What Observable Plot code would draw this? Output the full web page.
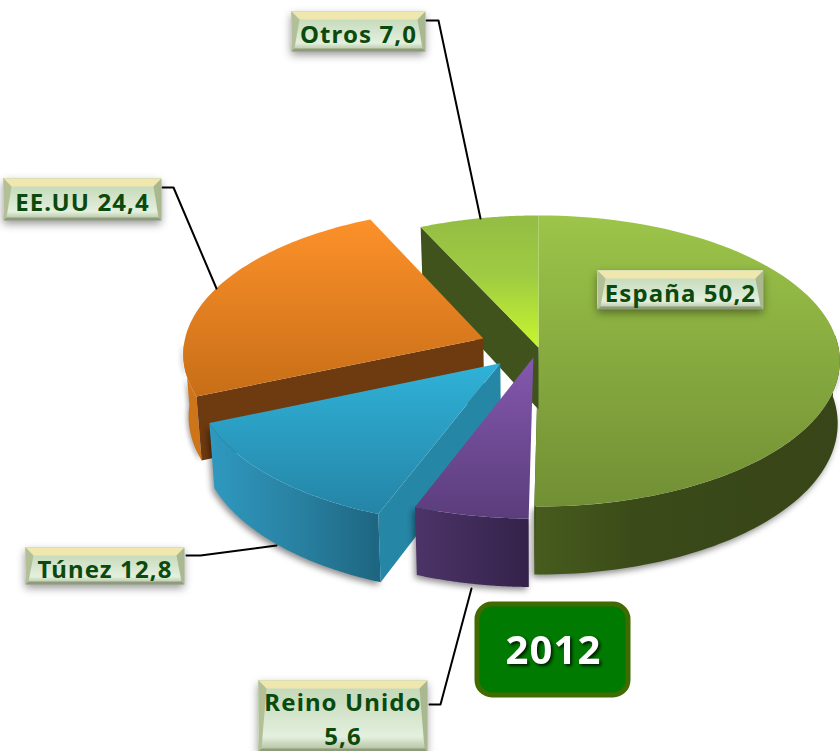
<!DOCTYPE html>
<html><head><meta charset="utf-8">
<script src="https://cdn.jsdelivr.net/npm/d3@7"></script>
<script src="https://cdn.jsdelivr.net/npm/@observablehq/plot@0.6"></script>
<style>
html,body{margin:0;padding:0;background:#fff;overflow:hidden}
svg{display:block}
svg text{letter-spacing:1.1px}
</style></head><body>
<script>
// Data
const categories = ["España", "Reino Unido", "Túnez", "EE.UU", "Otros"];
const values = [50.2, 5.6, 12.8, 24.4, 7.0];
const year = "2012";

// Layout (ground-plane geometry of the tilted pie, and label boxes)
const W = 840, H = 751;
const cx = 538, cy = 347, RX = 300, RY = 144.3, K = 0.0928;
const shiftU = [0, -0.017, -0.126, -0.185, 0];
const shiftV = [0, 0.068, 0.108, -0.0625, 0];
const boxX1 = [597, 258, 25, 3, 291];
const boxX2 = [763, 427, 184, 161, 425];
const boxY1 = [270, 680, 547, 178, 11];
const boxY2 = [309, 751, 584, 220, 51];
const leaderX = [null, [429, 440, 471], [186, 200, 276], [162, 173, 216], [426, 438, 480]];
const leaderY = [null, [704, 704, 588], [555, 555, 545], [187, 187, 288], [20, 20, 218]];

const proj = (u, v) => {
  const d = 1 - K * v;
  return {x: cx + RX * u / d, y: cy + RY * v / d};
};
const depth = v => 62 + 6 * v;
const low = (u, v) => {
  const p = proj(u, v);
  const s = p.x > cx ? 0.993 : 0.985;
  return {x: cx + (p.x - cx) * s, y: p.y + depth(v)};
};
const total = d3.sum(values);
const cum = [0, ...d3.cumsum(values)];
const ang = i => cum[i] / total * 2 * Math.PI;
const rimUV = (i, t) => ({u: shiftU[i] + Math.sin(t), v: shiftV[i] - Math.cos(t)});

function arcTs(a0, a1) { return d3.range(0, 81).map(k => a0 + (a1 - a0) * k / 80); }
function topPoly(i) {
  const pts = arcTs(ang(i), ang(i + 1)).map(t => { const q = rimUV(i, t); return proj(q.u, q.v); });
  pts.push(proj(shiftU[i], shiftV[i]));
  return pts;
}
function wallPoly(i, a0, a1) {
  const ts = arcTs(a0, a1);
  const up = ts.map(t => { const q = rimUV(i, t); return proj(q.u, q.v); });
  const dn = ts.map(t => { const q = rimUV(i, t); return low(q.u, q.v); }).reverse();
  return [...up, ...dn];
}
function cutPoly(i, t) {
  const q = rimUV(i, t), a = {u: shiftU[i], v: shiftV[i]};
  return [proj(q.u, q.v), proj(a.u, a.v), low(a.u, a.v), low(q.u, q.v)];
}
const poly = (pts, fill, extra = {}) => Plot.line(pts, {x: "x", y: "y", fill, stroke: "none", ...extra});
const deg = d => d * Math.PI / 180;

const gradients = [
  ["gEs", 0, 1, [[0, "#9cc549"], [0.75, "#7c9c3a"], [1, "#718f34"]]],
  ["gOt", 0, 1, [[0, "#93bd44"], [0.45, "#9ecb42"], [1, "#c8f62e"]]],
  ["gOr", 0, 1, [[0, "#fd912a"], [1, "#c76e17"]]],
  ["gBl", 0, 1, [[0, "#30b2d8"], [1, "#2484a6"]]],
  ["gPu", 0, 1, [[0, "#8458ae"], [1, "#5b3d7c"]]],
  ["gEsW", 1, 0, [[0, "#475c1e"], [0.35, "#3a4a18"], [1, "#384518"]]],
  ["gBlW", 1, 0, [[0, "#2f99c0"], [0.55, "#287f9f"], [1, "#1d6580"]]],
  ["gPuW", 1, 0, [[0, "#4c3468"], [1, "#34224a"]]],
  ["gBox", 0, 1, [[0, "#c4d9b8"], [0.25, "#c8dcbe"], [0.8, "#e4f0de"], [1, "#aebd9c"]]]
];
const defsMark = () => {
  const svg = d3.create("svg:defs");
  for (const [id, h, , stops] of gradients) {
    const g = svg.append("linearGradient").attr("id", id)
      .attr("x1", 0).attr("y1", 0).attr("x2", h ? 1 : 0).attr("y2", h ? 0 : 1);
    for (const [o, c] of stops) g.append("stop").attr("offset", o).attr("stop-color", c);
  }
  return svg.node();
};

const shadow = "drop-shadow(-2px 3px 3px rgba(0,0,0,0.45))";
const softShadow = "drop-shadow(-2px 1px 2px rgba(0,0,0,0.3))";
const B = 8;
const labels = categories.map((c, i) => {
  const v = values[i].toFixed(1).replace(".", ",");
  return {
    text: c === "Reino Unido" ? `${c}\n${v}` : `${c} ${v}`,
    x: (boxX1[i] + boxX2[i]) / 2, y: (boxY1[i] + boxY2[i]) / 2 + 1,
    x1: boxX1[i], x2: boxX2[i], y1: boxY1[i], y2: boxY2[i]
  };
});
const boxMarks = labels.flatMap(b => [
  Plot.rect([b], {x1: "x1", x2: "x2", y1: "y1", y2: "y2", fill: "url(#gBox)",
    imageFilter: "drop-shadow(0px 4px 4px rgba(0,0,0,0.4))"}),
  poly([{x: b.x1, y: b.y1}, {x: b.x2, y: b.y1}, {x: b.x2 - B, y: b.y1 + B}, {x: b.x1 + B, y: b.y1 + B}], "#efe7ad"),
  poly([{x: b.x1, y: b.y1}, {x: b.x1 + B, y: b.y1 + B}, {x: b.x1 + 3, y: b.y2 - 3}, {x: b.x1, y: b.y2}], "#b3bf97"),
  poly([{x: b.x2, y: b.y1}, {x: b.x2 - B, y: b.y1 + B}, {x: b.x2 - 3, y: b.y2 - 3}, {x: b.x2, y: b.y2}], "#aab88f"),
  poly([{x: b.x1, y: b.y2}, {x: b.x1 + 3, y: b.y2 - 3}, {x: b.x2 - 3, y: b.y2 - 3}, {x: b.x2, y: b.y2}], "#8f9c7c")
]);

const chart = Plot.plot({
  width: W, height: H, margin: 0,
  x: {domain: [0, W], range: [0, W], axis: null},
  y: {domain: [0, H], range: [0, H], axis: null},
  style: {background: "#fff"},
  marks: [
    defsMark,
    // España
    poly(wallPoly(0, deg(85), ang(1)), "url(#gEsW)", {imageFilter: shadow}),
    poly(cutPoly(0, ang(1)), "#3e4f1a"),
    poly(topPoly(0), "url(#gEs)"),
    // Otros
    poly(cutPoly(4, ang(4)), "#41531c"),
    poly(topPoly(4), "url(#gOt)"),
    // EE.UU
    poly(wallPoly(3, ang(3), deg(268)), "#cf7519", {imageFilter: softShadow}),
    poly(cutPoly(3, ang(3)), "#6e3a10"),
    poly(topPoly(3), "url(#gOr)"),
    // Túnez
    poly(wallPoly(2, ang(2), ang(3)), "url(#gBlW)", {imageFilter: shadow}),
    poly(cutPoly(2, ang(2)), "#2586a6"),
    poly(topPoly(2), "url(#gBl)"),
    // Reino Unido
    poly(wallPoly(1, ang(1), ang(2)), "url(#gPuW)", {imageFilter: shadow}),
    poly(topPoly(1), "url(#gPu)"),
    // Leader lines
    ...categories.flatMap((c, i) => leaderX[i] ? [Plot.line(leaderX[i].map((x, k) => ({x, y: leaderY[i][k]})),
      {x: "x", y: "y", stroke: "#000", strokeWidth: 2})] : []),
    // Labels
    ...boxMarks,
    Plot.text(labels, {x: "x", y: "y", text: "text", fill: "#0b4a0d", fontSize: 24, fontWeight: 700,
      fontFamily: "Noto Sans", lineHeight: 1.42, textAnchor: "middle"}),
    // Year badge
    Plot.rect([{x1: 477, x2: 628, y1: 604, y2: 695}], {x1: "x1", x2: "x2", y1: "y1", y2: "y2",
      fill: "#007a00", stroke: "#3f6b00", strokeWidth: 5, rx: 15}),
    Plot.text([year], {x: () => 553, y: () => 651, text: d => d, fill: "#fff", fontSize: 40, fontWeight: 700,
      fontFamily: "Noto Sans", imageFilter: "drop-shadow(2px 2px 1.5px rgba(0,0,0,0.75))"})
  ]
});
document.body.appendChild(chart);
</script>
</body></html>
